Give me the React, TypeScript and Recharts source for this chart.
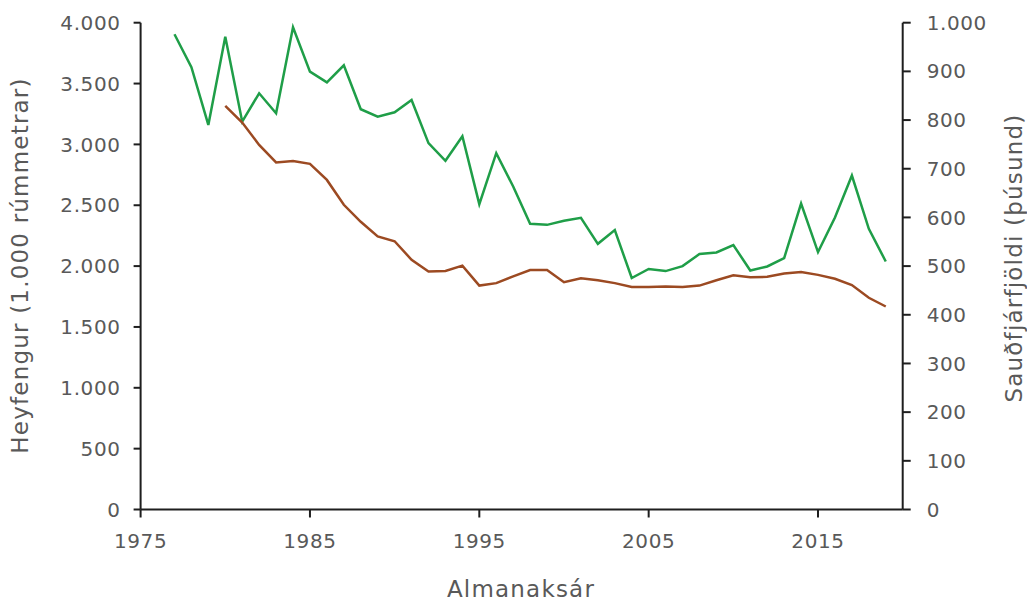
import React from 'react';
import { LineChart, Line, XAxis, YAxis, Label } from 'recharts';

// Almanaksár
const years = [
  1977, 1978, 1979, 1980, 1981, 1982, 1983, 1984, 1985, 1986, 1987, 1988, 1989, 1990,
  1991, 1992, 1993, 1994, 1995, 1996, 1997, 1998, 1999, 2000, 2001, 2002, 2003, 2004,
  2005, 2006, 2007, 2008, 2009, 2010, 2011, 2012, 2013, 2014, 2015, 2016, 2017, 2018, 2019,
];

// Heyfengur (1.000 rúmmetrar) - left axis
const hay = [
  3905, 3635, 3160, 3885, 3187, 3420, 3256, 3962, 3598, 3510, 3650, 3289, 3228, 3264,
  3365, 3010, 2865, 3067, 2509, 2928, 2654, 2347, 2339, 2372, 2397, 2183, 2296, 1902,
  1976, 1959, 2000, 2099, 2112, 2173, 1964, 1997, 2066, 2514, 2115, 2399, 2744, 2306, 2038,
];

// Sauðfjárfjöldi (þúsund) - right axis
const sheep = [
  null, null, null, 829, 795, 749, 713, 716, 710, 677, 626, 591, 561, 551,
  513, 489, 490, 501, 460, 465, 479, 492, 492, 467, 475, 471, 465, 457,
  457, 458, 457, 460, 471, 481, 477, 478, 485, 488, 482, 474, 461, 435, 417,
];

const xTicks = [1975, 1985, 1995, 2005, 2015];
const leftTicks = [0, 500, 1000, 1500, 2000, 2500, 3000, 3500, 4000];
const rightTicks = [0, 100, 200, 300, 400, 500, 600, 700, 800, 900, 1000];

const data = years.map((year, i) => ({ year, hay: hay[i], sheep: sheep[i] }));

const FONT = '"DejaVu Sans", sans-serif';
const TEXT = '#595959';
const AXIS = '#1e1e1e';

const fmt = (v: number) => String(v).replace(/\B(?=(\d{3})+(?!\d))/g, '.');

const tickStyle = { fill: TEXT, fontSize: 20, fontFamily: FONT, letterSpacing: 0.6 };
const titleStyle = { fill: TEXT, fontSize: 23, fontFamily: FONT, letterSpacing: 1.2 };

export default function App() {
  return (
    <div style={{ position: 'absolute', left: 0, top: 0 }}>
      <LineChart
        width={1027}
        height={601}
        data={data}
        margin={{ top: 22.7, right: 0, bottom: 0, left: 0 }}
      >
        <XAxis
          dataKey="year"
          type="number"
          domain={[1975, 2020]}
          ticks={xTicks}
          allowDecimals={false}
          height={91.5}
          stroke={AXIS}
          strokeWidth={2}
          tickSize={8}
          tickMargin={16}
          tick={tickStyle}
          tickLine={{ stroke: AXIS, strokeWidth: 2 }}
        >
          <Label
            content={() => (
              <text x={521} y={596.5} textAnchor="middle" {...titleStyle}>
                Almanaksár
              </text>
            )}
          />
        </XAxis>
        <YAxis
          yAxisId="left"
          orientation="left"
          domain={[0, 4000]}
          ticks={leftTicks}
          width={140.6}
          stroke={AXIS}
          strokeWidth={2}
          tickSize={7}
          tickMargin={13}
          tick={tickStyle}
          tickLine={{ stroke: AXIS, strokeWidth: 2 }}
          tickFormatter={fmt}
        >
          <Label
            content={() => (
              <text
                x={0}
                y={0}
                transform="translate(27.5, 265.5) rotate(-90)"
                textAnchor="middle"
                {...titleStyle}
              >
                Heyfengur (1.000 rúmmetrar)
              </text>
            )}
          />
        </YAxis>
        <YAxis
          yAxisId="right"
          orientation="right"
          domain={[0, 1000]}
          ticks={rightTicks}
          width={124.3}
          stroke={AXIS}
          strokeWidth={2}
          tickSize={8}
          tickMargin={16}
          tick={tickStyle}
          tickLine={{ stroke: AXIS, strokeWidth: 2 }}
          tickFormatter={fmt}
        >
          <Label
            content={() => (
              <text
                x={0}
                y={0}
                transform="translate(1021.5, 258) rotate(-90)"
                textAnchor="middle"
                {...titleStyle}
              >
                Sauðfjárfjöldi (þúsund)
              </text>
            )}
          />
        </YAxis>
        <Line
          yAxisId="left"
          dataKey="hay"
          stroke="#1f9e48"
          strokeWidth={2.5}
          dot={false}
          isAnimationActive={false}
        />
        <Line
          yAxisId="right"
          dataKey="sheep"
          stroke="#9c4a22"
          strokeWidth={2.5}
          dot={false}
          connectNulls={false}
          isAnimationActive={false}
        />
      </LineChart>
    </div>
  );
}
